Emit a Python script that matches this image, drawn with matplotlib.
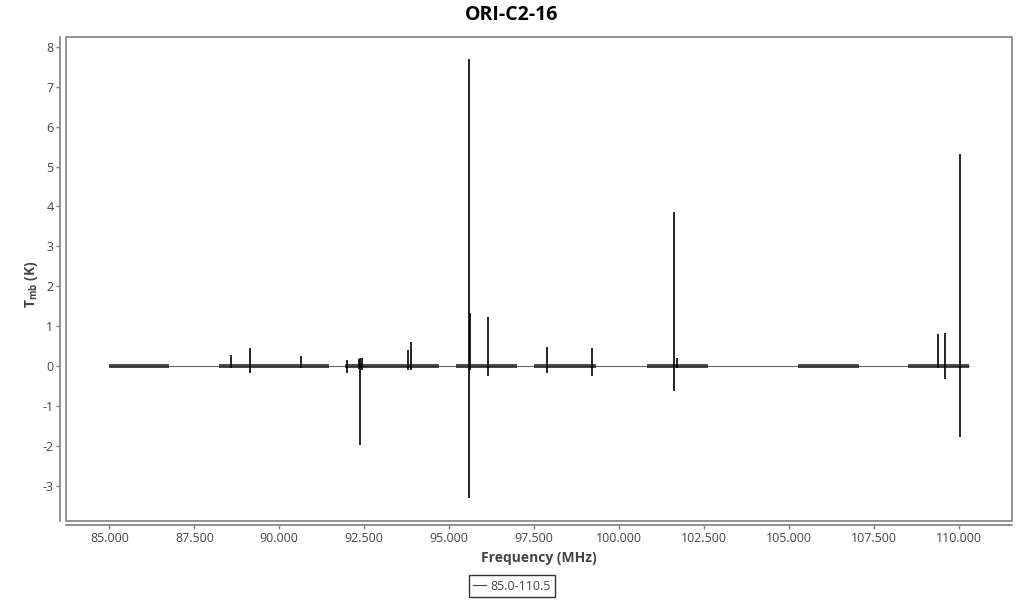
import matplotlib
matplotlib.use("Agg")
import matplotlib.pyplot as plt
from matplotlib.patches import Rectangle
from matplotlib.lines import Line2D

plt.rcParams['font.family'] = ['Open Sans', 'DejaVu Sans']
plt.rcParams['mathtext.fontset'] = 'custom'
plt.rcParams['mathtext.rm'] = 'Open Sans'
plt.rcParams['mathtext.bf'] = 'Open Sans:bold'

# ---- data ----
title = "ORI-C2-16"
series_name = "85.0-110.5"
# observed frequency windows (MHz) and their noise half-amplitude (K)
seg_start = [85.00, 88.23, 91.94, 95.20, 97.49, 100.81, 105.25, 108.50]
seg_end   = [86.76, 91.47, 94.71, 96.99, 99.31, 102.61, 107.05, 110.29]
seg_noise = [0.05, 0.05, 0.045, 0.045, 0.045, 0.045, 0.05, 0.055]
# lines: frequency, max and min of the spectrum around the line (K)
spike_freq = [88.59, 89.15, 90.63, 91.98, 92.33, 92.38, 92.44, 93.79, 93.88,
              95.58, 95.61, 96.15, 97.88, 99.19, 101.62, 101.71, 109.38, 109.59, 110.01]
spike_max  = [0.28, 0.44, 0.25, 0.15, 0.17, 0.19, 0.20, 0.40, 0.59,
              7.69, 1.34, 1.22, 0.47, 0.44, 3.87, 0.21, 0.79, 0.82, 5.32]
spike_min  = [-0.05, -0.17, -0.05, -0.17, -0.08, -1.98, -0.10, -0.10, -0.10,
              -3.32, -0.10, -0.24, -0.18, -0.25, -0.62, -0.05, -0.05, -0.33, -1.77]
xticks = [85, 87.5, 90, 92.5, 95, 97.5, 100, 102.5, 105, 107.5, 110]
yticks = [-3, -2, -1, 0, 1, 2, 3, 4, 5, 6, 7, 8]

W, H = 1024, 600
fig = plt.figure(figsize=(W / 100, H / 100), dpi=100)
ax = fig.add_axes([66 / W, 1 - 521 / H, (1012 - 66) / W, (521 - 37) / H])

gray = '#808080'
txt = '#444444'

# baseline connecting all windows
ax.plot([seg_start[0], seg_end[-1]], [0, 0], color='#666666', lw=0.8, zorder=2)
# noise bands
for s, e, n in zip(seg_start, seg_end, seg_noise):
    ax.fill_between([s, e], [-n, -n], [n, n], color='#222222', alpha=0.8, lw=0, zorder=3)
# spectral lines
ax.vlines(spike_freq, spike_min, spike_max, color='black', lw=1.2, zorder=4)

ax.set_xlim(83.726, 111.55)
ax.set_ylim(-3.887, 8.25)
ax.set_xticks(xticks)
ax.set_xticklabels([f"{v:.3f}" for v in xticks])
ax.set_yticks(yticks)
ax.set_yticklabels([str(v) for v in yticks])

for sp in ['top', 'right']:
    ax.spines[sp].set_visible(False)
ax.spines['left'].set_position(('outward', 4))
ax.spines['bottom'].set_position(('outward', 3))
for sp in ['left', 'bottom']:
    ax.spines[sp].set_color(gray)
    ax.spines[sp].set_linewidth(1.2)
ax.add_patch(Rectangle((0, 0), 1, 1, transform=ax.transAxes, fill=False,
                       edgecolor=gray, lw=1.2, clip_on=False, zorder=5))

ax.tick_params(axis='both', colors=gray, labelcolor=txt, labelsize=9,
               length=3, width=1, direction='out', pad=2)

fig.text(0.5, 1 - 15 / H, title, ha='center', va='center', fontsize=14,
         fontweight='bold', color='black')
ax.set_xlabel('Frequency (MHz)', fontsize=10, fontweight='bold', color=txt, labelpad=4)
ax.set_ylabel(r'T$_{\mathbf{mb}}$ (K)', fontsize=10, fontweight='bold', color=txt)
ax.yaxis.set_label_coords(-(66 - 40) / (1012 - 66), (521 - 284) / (521 - 37))

handle = Line2D([], [], color='#444444', lw=0.8)
leg = fig.legend([handle], [series_name], loc='center',
                 bbox_to_anchor=(512 / W, 1 - 586 / H), frameon=True,
                 fancybox=False, edgecolor='black', fontsize=9,
                 handlelength=1.0, handletextpad=0.4, borderpad=0.35,
                 labelcolor=txt)
leg.get_frame().set_linewidth(1.0)

fig.savefig('out.png', dpi=100)
